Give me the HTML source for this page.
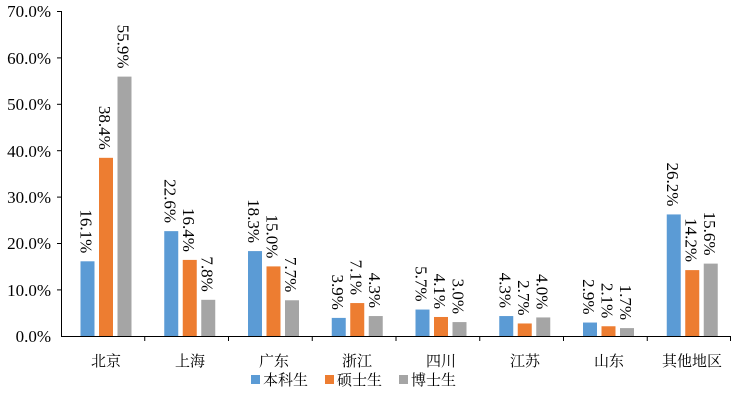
<!DOCTYPE html>
<html><head><meta charset="utf-8"><style>
body{margin:0;background:#fff;}
svg text{font-family:"Liberation Serif","Noto Serif CJK SC",serif;}
.c{font-family:"Noto Serif CJK SC","Noto Sans CJK SC",serif;}
</style></head><body>
<svg width="737" height="405" xmlns="http://www.w3.org/2000/svg">
<g font-size="17" text-anchor="end" fill="#000">
<text x="51" y="17">70.0%</text>
<text x="51" y="64">60.0%</text>
<text x="51" y="110">50.0%</text>
<text x="51" y="157">40.0%</text>
<text x="51" y="203">30.0%</text>
<text x="51" y="249">20.0%</text>
<text x="51" y="296">10.0%</text>
<text x="51" y="342">0.0%</text>
</g>
<g stroke="#000" stroke-width="1">
<line x1="61.5" y1="11" x2="61.5" y2="336"/>
<line x1="61" y1="336.5" x2="731" y2="336.5"/>
<line x1="57" y1="11.5" x2="61" y2="11.5"/><line x1="57" y1="57.9" x2="61" y2="57.9"/><line x1="57" y1="104.3" x2="61" y2="104.3"/><line x1="57" y1="150.7" x2="61" y2="150.7"/><line x1="57" y1="197.1" x2="61" y2="197.1"/><line x1="57" y1="243.5" x2="61" y2="243.5"/><line x1="57" y1="289.9" x2="61" y2="289.9"/>
<line x1="144.75" y1="336" x2="144.75" y2="341"/><line x1="228.5" y1="336" x2="228.5" y2="341"/><line x1="312.25" y1="336" x2="312.25" y2="341"/><line x1="396" y1="336" x2="396" y2="341"/><line x1="479.75" y1="336" x2="479.75" y2="341"/><line x1="563.5" y1="336" x2="563.5" y2="341"/><line x1="647.25" y1="336" x2="647.25" y2="341"/><line x1="730.5" y1="336" x2="730.5" y2="341"/>
</g>
<g fill="#5b9bd5">
<rect x="80.5" y="261.3" width="14" height="74.7"/>
<rect x="164.25" y="231.14" width="14" height="104.86"/>
<rect x="248" y="251.09" width="14" height="84.91"/>
<rect x="331.75" y="317.9" width="14" height="18.1"/>
<rect x="415.5" y="309.55" width="14" height="26.45"/>
<rect x="499.25" y="316.05" width="14" height="19.95"/>
<rect x="583" y="322.54" width="14" height="13.46"/>
<rect x="666.75" y="214.43" width="14" height="121.57"/>
</g>
<g fill="#ed7d31">
<rect x="99" y="157.82" width="14" height="178.18"/>
<rect x="182.75" y="259.9" width="14" height="76.1"/>
<rect x="266.5" y="266.4" width="14" height="69.6"/>
<rect x="350.25" y="303.06" width="14" height="32.94"/>
<rect x="434" y="316.98" width="14" height="19.02"/>
<rect x="517.75" y="323.47" width="14" height="12.53"/>
<rect x="601.5" y="326.26" width="14" height="9.74"/>
<rect x="685.25" y="270.11" width="14" height="65.89"/>
</g>
<g fill="#a5a5a5">
<rect x="117.5" y="76.62" width="14" height="259.38"/>
<rect x="201.25" y="299.81" width="14" height="36.19"/>
<rect x="285" y="300.27" width="14" height="35.73"/>
<rect x="368.75" y="316.05" width="14" height="19.95"/>
<rect x="452.5" y="322.08" width="14" height="13.92"/>
<rect x="536.25" y="317.44" width="14" height="18.56"/>
<rect x="620" y="328.11" width="14" height="7.89"/>
<rect x="703.75" y="263.62" width="14" height="72.38"/>
</g>
<g font-size="17" text-anchor="end">
<text transform="translate(80.5,253.3) rotate(90)">16.1%</text>
<text transform="translate(99,149.8) rotate(90)">38.4%</text>
<text transform="translate(117.5,68.6) rotate(90)">55.9%</text>
<text transform="translate(164.25,223.1) rotate(90)">22.6%</text>
<text transform="translate(182.75,251.9) rotate(90)">16.4%</text>
<text transform="translate(201.25,291.8) rotate(90)">7.8%</text>
<text transform="translate(248,243.1) rotate(90)">18.3%</text>
<text transform="translate(266.5,258.4) rotate(90)">15.0%</text>
<text transform="translate(285,292.3) rotate(90)">7.7%</text>
<text transform="translate(331.75,309.9) rotate(90)">3.9%</text>
<text transform="translate(350.25,295.1) rotate(90)">7.1%</text>
<text transform="translate(368.75,308.1) rotate(90)">4.3%</text>
<text transform="translate(415.5,301.6) rotate(90)">5.7%</text>
<text transform="translate(434,309) rotate(90)">4.1%</text>
<text transform="translate(452.5,314.1) rotate(90)">3.0%</text>
<text transform="translate(499.25,308.1) rotate(90)">4.3%</text>
<text transform="translate(517.75,315.5) rotate(90)">2.7%</text>
<text transform="translate(536.25,309.4) rotate(90)">4.0%</text>
<text transform="translate(583,314.5) rotate(90)">2.9%</text>
<text transform="translate(601.5,318.3) rotate(90)">2.1%</text>
<text transform="translate(620,320.1) rotate(90)">1.7%</text>
<text transform="translate(666.75,206.4) rotate(90)">26.2%</text>
<text transform="translate(685.25,262.1) rotate(90)">14.2%</text>
<text transform="translate(703.75,255.6) rotate(90)">15.6%</text>
</g>
<g font-size="15" text-anchor="middle" class="c">
<text class="c" x="106" y="366">北京</text>
<text class="c" x="190" y="366">上海</text>
<text class="c" x="274" y="366">广东</text>
<text class="c" x="357" y="366">浙江</text>
<text class="c" x="441" y="366">四川</text>
<text class="c" x="525" y="366">江苏</text>
<text class="c" x="609" y="366">山东</text>
<text class="c" x="692" y="366">其他地区</text>
</g>
<rect x="251" y="375" width="9" height="9" fill="#5b9bd5"/>
<text class="c" x="263" y="385" font-size="15">本科生</text>
<rect x="325" y="375" width="9" height="9" fill="#ed7d31"/>
<text class="c" x="337" y="385" font-size="15">硕士生</text>
<rect x="399" y="375" width="9" height="9" fill="#a5a5a5"/>
<text class="c" x="411" y="385" font-size="15">博士生</text>
</svg>
</body></html>
